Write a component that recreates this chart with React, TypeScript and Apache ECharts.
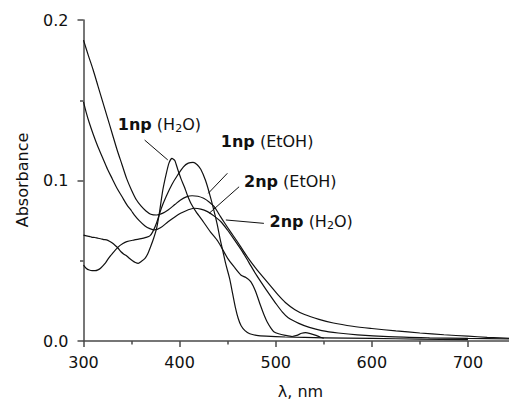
import React, { useEffect, useRef } from "react";
import * as echarts from "echarts";

// Wavelength (nm) / absorbance pairs
const np2EtOH: [number, number][] = [
  [300, 0.1875], [305, 0.178], [310, 0.169], [315, 0.159], [320, 0.149], [325, 0.139],
  [330, 0.129], [335, 0.119], [340, 0.11], [345, 0.101], [350, 0.094], [355, 0.088],
  [360, 0.084], [365, 0.081], [370, 0.079], [376, 0.0785], [382, 0.0795], [388, 0.0816],
  [395, 0.085], [401, 0.0879], [407, 0.0898], [413, 0.0905], [419, 0.0902], [425, 0.0889],
  [431, 0.0865], [436, 0.0837], [441, 0.079], [446, 0.0743], [453, 0.068], [460, 0.062],
  [467, 0.0555], [474, 0.0494], [481, 0.044], [488, 0.039], [495, 0.034], [502, 0.029],
  [510, 0.024], [520, 0.0195], [530, 0.0165], [545, 0.0135], [560, 0.0112], [580, 0.0092],
  [600, 0.0078], [625, 0.0063], [650, 0.005], [675, 0.0039], [700, 0.003], [720, 0.0023],
  [750, 0.0015],
];

const np2H2O: [number, number][] = [
  [300, 0.149], [303, 0.142], [306, 0.136], [310, 0.129], [315, 0.121], [320, 0.114],
  [325, 0.107], [330, 0.101], [335, 0.095], [340, 0.09], [345, 0.085], [350, 0.081],
  [353, 0.0785], [358, 0.075], [364, 0.0717], [369, 0.07], [374, 0.0692], [380, 0.0705],
  [388, 0.0743], [395, 0.0773], [401, 0.0796], [408, 0.0815], [415, 0.0827], [422, 0.0822],
  [429, 0.0806], [436, 0.0778], [443, 0.0743], [450, 0.069], [457, 0.063], [465, 0.056],
  [472, 0.049], [480, 0.041], [490, 0.032], [500, 0.0235], [507, 0.018], [513, 0.0145],
  [524, 0.011], [535, 0.0085], [548, 0.0065], [565, 0.005], [585, 0.0038], [617, 0.0027],
  [660, 0.002], [700, 0.0016], [750, 0.0012],
];

const np1H2O: [number, number][] = [
  [300, 0.066], [303, 0.0655], [306, 0.0652], [309, 0.0646], [312, 0.0645], [315, 0.064],
  [318, 0.0637], [321, 0.0632], [324, 0.063], [327, 0.0622], [330, 0.061], [333, 0.0595],
  [336, 0.0578], [339, 0.0556], [342, 0.0541], [345, 0.053], [348, 0.0514], [351, 0.05],
  [354, 0.0489], [357, 0.0484], [360, 0.0495], [364, 0.0515], [367, 0.0545], [370, 0.059],
  [373, 0.064], [376, 0.07], [379, 0.08], [382.5, 0.094], [386, 0.104], [389, 0.111],
  [392, 0.1138], [395, 0.1125], [398, 0.107], [401.5, 0.101], [405, 0.096], [408, 0.091],
  [412, 0.0855], [417, 0.0806], [425, 0.074], [432, 0.068], [440, 0.062], [450, 0.0515],
  [457, 0.046], [464, 0.041], [469, 0.0395], [474, 0.037], [479, 0.031], [484, 0.0224],
  [488, 0.016], [491, 0.012], [495, 0.008], [498, 0.0058], [503, 0.0045], [510, 0.0035],
  [517, 0.0028], [522, 0.0035], [527, 0.0048], [531, 0.0052], [536, 0.0046], [541, 0.0037],
  [546, 0.0025], [550, 0.0017],
];

const np1EtOH: [number, number][] = [
  [300, 0.0473], [303, 0.0452], [306, 0.0442], [309, 0.0438], [312, 0.0438], [315, 0.0443],
  [318, 0.0455], [322, 0.048], [326, 0.0515], [330, 0.0545], [336, 0.0585], [341, 0.0607],
  [345, 0.0619], [353, 0.063], [360, 0.0638], [365, 0.0646], [369, 0.0655], [372, 0.068],
  [376, 0.0735], [381, 0.0827], [386, 0.09], [392, 0.0975], [398, 0.1034], [404, 0.1085],
  [409, 0.1108], [414, 0.1113], [418, 0.11], [422, 0.107], [427, 0.1], [431, 0.092],
  [435, 0.083], [439, 0.073], [442, 0.064], [445, 0.056], [448, 0.048], [452, 0.039],
  [455, 0.03], [458, 0.021], [461, 0.014], [464, 0.0095], [468, 0.0065], [473, 0.0045],
  [480, 0.0035], [490, 0.003], [510, 0.0025], [550, 0.002], [600, 0.0016], [650, 0.0012],
  [700, 0.0009],
];

// Leader lines (data coordinates)
const leader1npH2O: [number, number][] = [[363.6, 0.1252], [387.7, 0.1128]];
const leader1npEtOH: [number, number][] = [[449.7, 0.1045], [429.8, 0.092]];
const leader2npEtOH: [number, number][] = [[461.9, 0.0961], [430.8, 0.0796]];
const leader2npH2O: [number, number][] = [[487.7, 0.0733], [448.1, 0.0754]];

// Label texts and their anchor (left edge, vertical middle) in data coordinates
const labelTexts = [
  "{b|1np}{n|\u00A0(H}{s|2}{n|O)}",
  "{b|1np}{n|\u00A0(EtOH)}",
  "{b|2np}{n|\u00A0(EtOH)}",
  "{b|2np}{n|\u00A0(H}{s|2}{n|O)}",
];
const labelAnchors: [number, number][] = [
  [335.7, 0.1349],
  [442.9, 0.124],
  [467.0, 0.0994],
  [493.6, 0.0745],
];

const xTicks = [300, 400, 500, 600, 700];
const FONT = "DejaVu Sans";
const INK = "#111";
const AXIS = "#4a4a4a";

export default function App() {
  const ref = useRef<HTMLDivElement>(null);
  useEffect(() => {
    if (!ref.current) return;
    const chart = echarts.init(ref.current, undefined, { renderer: "svg" });
    const mkLine = (pts: [number, number][]) => ({
      silent: true,
      symbol: ["none", "none"],
      label: { show: false },
      lineStyle: { color: INK, width: 1, type: "solid" },
      data: [[{ coord: pts[0] }, { coord: pts[1] }]],
    });
    const mkSeries = (name: string, data: [number, number][], leader: [number, number][], smooth: number) => ({
      name,
      type: "line",
      data,
      showSymbol: false,
      symbol: "none",
      smooth,
      lineStyle: { color: INK, width: 1.2 },
      markLine: mkLine(leader),
      z: 3,
    });
    chart.setOption({
      animation: false,
      backgroundColor: "#fff",
      grid: { left: 83.5, right: 0.3, top: 20, bottom: 60, containLabel: false },
      xAxis: {
        type: "value",
        min: 300,
        max: 750,
        interval: 100,
        axisLine: { show: true, onZero: false, lineStyle: { color: AXIS, width: 1.5 } },
        axisTick: { show: true, length: 6, lineStyle: { color: AXIS, width: 1.5 } },
        minorTick: { show: true, splitNumber: 2, length: 3.5, lineStyle: { color: AXIS, width: 1.5 } },
        splitLine: { show: false },
        axisLabel: {
          margin: 13,
          color: INK,
          fontSize: 16,
          fontFamily: FONT,
          formatter: (v: number) => (xTicks.includes(v) ? String(v) : ""),
        },
      },
      yAxis: {
        type: "value",
        min: 0,
        max: 0.2,
        interval: 0.1,
        axisLine: { show: true, onZero: false, lineStyle: { color: AXIS, width: 1.5 } },
        axisTick: { show: true, length: 6, lineStyle: { color: AXIS, width: 1.5 } },
        minorTick: { show: true, splitNumber: 2, length: 3.5, lineStyle: { color: AXIS, width: 1.5 } },
        splitLine: { show: false },
        axisLabel: {
          margin: 15,
          color: INK,
          fontSize: 16,
          fontFamily: FONT,
          formatter: (v: number) => v.toFixed(1),
        },
      },
      series: [
        mkSeries("2np (EtOH)", np2EtOH, leader2npEtOH, 0.3),
        mkSeries("2np (H2O)", np2H2O, leader2npH2O, 0.3),
        mkSeries("1np (H2O)", np1H2O, leader1npH2O, 0.2),
        mkSeries("1np (EtOH)", np1EtOH, leader1npEtOH, 0.3),
      ],
    });

    const rich = {
      b: { fontFamily: FONT, fontSize: 16, fontWeight: "bold", lineHeight: 20, fill: INK, color: INK },
      n: { fontFamily: FONT, fontSize: 16, lineHeight: 20, fill: INK, color: INK },
      s: { fontFamily: FONT, fontSize: 11, lineHeight: 11, verticalAlign: "bottom", fill: INK, color: INK },
    };
    const labelGraphics = labelTexts.map((t, i) => {
      const p = chart.convertToPixel({ gridIndex: 0 }, labelAnchors[i]) as number[];
      return {
        type: "text",
        x: p[0],
        y: p[1],
        style: { text: t, rich, align: "left", verticalAlign: "middle", fill: INK, fontFamily: FONT, fontSize: 16 },
        z: 10,
      };
    });
    chart.setOption({
      graphic: [
        ...labelGraphics,
        {
          type: "text",
          x: 300.5,
          y: 391,
          style: { text: "λ, nm", align: "center", verticalAlign: "middle", fill: INK, fontFamily: FONT, fontSize: 16 },
        },
        {
          type: "text",
          x: 22,
          y: 180,
          rotation: Math.PI / 2,
          style: { text: "Absorbance", align: "center", verticalAlign: "middle", fill: INK, fontFamily: FONT, fontSize: 16 },
        },
      ],
    });
    return () => chart.dispose();
  }, []);
  return (
    <div
      ref={ref}
      style={{ position: "fixed", left: 0, top: 0, width: 519, height: 401, background: "#fff" }}
    />
  );
}
